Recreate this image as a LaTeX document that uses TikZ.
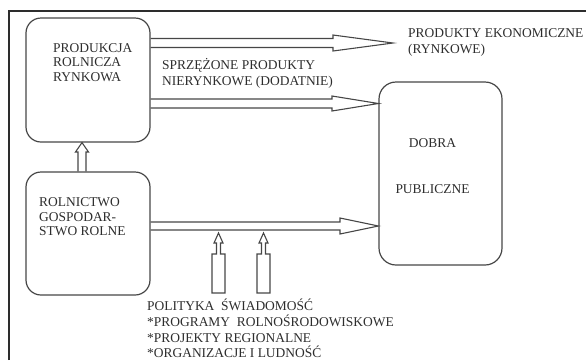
\documentclass[tikz,border=0pt]{standalone}
\usepackage{fontspec}
\setmainfont{Liberation Serif}
\usetikzlibrary{calc}
\definecolor{ink}{RGB}{45,45,45}
\definecolor{edge}{RGB}{70,70,70}

\begin{document}
\begin{tikzpicture}[x=1pt, y=-1pt,
  box/.style={draw=edge, line width=1.2pt, rounded corners=15pt, inner sep=0pt},
  lbl/.style={inner sep=0pt, align=left, text=ink, font=\fontsize{13.45}{15.8}\selectfont},
  boxlbl/.style={lbl, font=\fontsize{13.45}{14.6}\selectfont},
  hollow/.style={draw=edge, line width=1.1pt, line join=miter}]
  \useasboundingbox (0,0) rectangle (586,360);
  \draw[line width=1.5pt, ink] (9,360) -- (9,11) -- (586,11);
  % boxes
  \node[box, minimum width=124pt, minimum height=124pt] (prod)  at (88,80)      {};
  \node[box, minimum width=124pt, minimum height=123pt] (rol)   at (88,233.5)   {};
  \node[box, minimum width=123pt, minimum height=183pt, rounded corners=17pt] (dobra) at (440.5,173.5) {};
  % texts
  \node[boxlbl, anchor=west] (prodtxt)  at (53,62.5)  {PRODUKCJA\\ROLNICZA\\RYNKOWA};
  \node[boxlbl, anchor=west] (roltxt)   at (39,217)   {ROLNICTWO\\GOSPODAR-\\STWO ROLNE};
  \node[lbl] (dobratxt) at (432.5,143) {DOBRA};
  \node[lbl] (publtxt)  at (432.5,189) {PUBLICZNE};
  \node[lbl, anchor=west] (sprz) at (162,73)   {SPRZĘŻONE PRODUKTY\\NIERYNKOWE (DODATNIE)};
  \node[lbl, anchor=west] (ekon) at (408,42.5) {PRODUKTY EKONOMICZNE\\(RYNKOWE)};
  \node[lbl, anchor=west] (polit) at (147,328.5)
    {POLITYKA\ \ ŚWIADOMOŚĆ\\*PROGRAMY\ \ ROLNOŚRODOWISKOWE\\*PROJEKTY REGIONALNE\\*ORGANIZACJE I LUDNOŚĆ};
  % hollow arrows
  \draw[hollow] (prod.east |- 0,38.5) -- (333,38.5) -- (333,35) -- (393,43)
    -- (333,51) -- (333,47.5) -- (prod.east |- 0,47.5);
  \draw[hollow] (prod.east |- 0,99) -- (332,99) -- (332,96) -- (dobra.west |- 0,103.5)
    -- (332,111) -- (332,108) -- (prod.east |- 0,108);
  \draw[hollow] (rol.east |- 0,222) -- (340,222) -- (340,218) -- (dobra.west |- 0,226)
    -- (340,234) -- (340,230) -- (rol.east |- 0,230);
  \draw[hollow] (rol.north -| 78,0) -- (78,152) -- (75.5,152) -- (prod.south -| 82,0)
    -- (88.5,152) -- (86,152) -- (rol.north -| 86,0);
  \foreach \c in {218.5,263.5}
    \draw[hollow] (\c-2,254) -- (\c-6.5,254) -- (\c-6.5,293) -- (\c+6.5,293) -- (\c+6.5,254)
      -- (\c+2,254) -- (\c+2,243) -- (\c+4.5,243) -- (\c,233) -- (\c-4.5,243) -- (\c-2,243) -- cycle;
\end{tikzpicture}
\end{document}
